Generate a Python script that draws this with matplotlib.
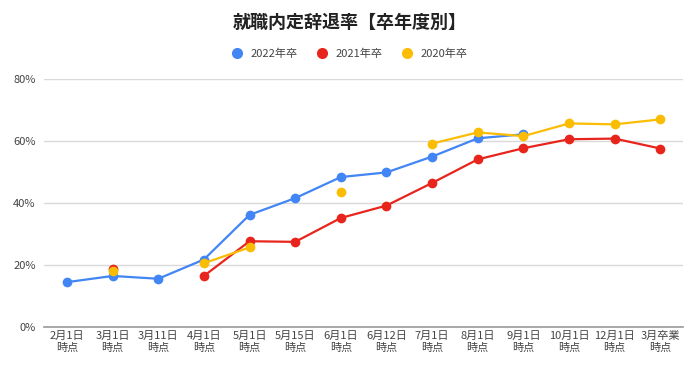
import matplotlib
matplotlib.use("Agg")
import numpy as np
import matplotlib.pyplot as plt

plt.rcParams['font.family'] = ['Noto Sans CJK JP', 'DejaVu Sans']

nan = np.nan

# カテゴリ（調査時点）
labels = ["2月1日\n時点", "3月1日\n時点", "3月11日\n時点", "4月1日\n時点", "5月1日\n時点",
          "5月15日\n時点", "6月1日\n時点", "6月12日\n時点", "7月1日\n時点", "8月1日\n時点",
          "9月1日\n時点", "10月1日\n時点", "12月1日\n時点", "3月卒業\n時点"]

# 内定辞退率 (%)
y2022 = [14.5, 16.5, 15.6, 21.8, 36.2, 41.6, 48.4, 49.9, 55.0, 60.9, 62.2, nan, nan, nan]
y2021 = [nan, 18.6, nan, 16.5, 27.7, 27.5, 35.2, 39.2, 46.5, 54.1, 57.7, 60.6, 60.8, 57.6]
y2020 = [nan, 18.2, nan, 20.6, 25.7, nan, 43.5, nan, 59.2, 62.8, 61.6, 65.7, 65.4, 67.0]

series = [("2022年卒", y2022, "#4285f4"),
          ("2021年卒", y2021, "#e8251c"),
          ("2020年卒", y2020, "#fbbc04")]

fig = plt.figure(figsize=(7, 3.73), dpi=100)
ax = fig.add_axes([0.063, 0.123, 0.913, 0.665])

x = np.arange(len(labels))
for name, vals, col in series:
    ax.plot(x, vals, color=col, lw=1.6, marker="o", markersize=7,
            markeredgewidth=0, label=name, zorder=3)

ax.set_xlim(-0.5, len(labels) - 0.5)
ax.set_ylim(0, 80)
ax.set_yticks([0, 20, 40, 60, 80])
ax.set_yticklabels([f"{v}%" for v in [0, 20, 40, 60, 80]])
ax.set_xticks(x)
ax.set_xticklabels(labels, linespacing=1.15)
ax.tick_params(length=0, labelsize=8, colors="#444444", pad=3)
ax.tick_params(axis="y", pad=6)

ax.grid(axis="y", color="#d9d9d9", lw=1)
ax.set_axisbelow(True)
for s in ["top", "right", "left"]:
    ax.spines[s].set_visible(False)
ax.spines["bottom"].set_color("#999999")
ax.spines["bottom"].set_linewidth(1.2)

fig.text(0.5, 0.94, "就職内定辞退率【卒年度別】", ha="center", va="center",
         fontsize=13, fontweight="bold", color="#222222")
leg = fig.legend(loc="center", bbox_to_anchor=(0.5, 0.855), ncol=3, frameon=False,
                 fontsize=8, handlelength=0.8, columnspacing=1.8, handletextpad=0.8)
for h in leg.legend_handles:
    h.set_linestyle("none")
    h.set_markersize(8)
for t in leg.get_texts():
    t.set_color("#444444")

fig.savefig("out.png", dpi=100)
